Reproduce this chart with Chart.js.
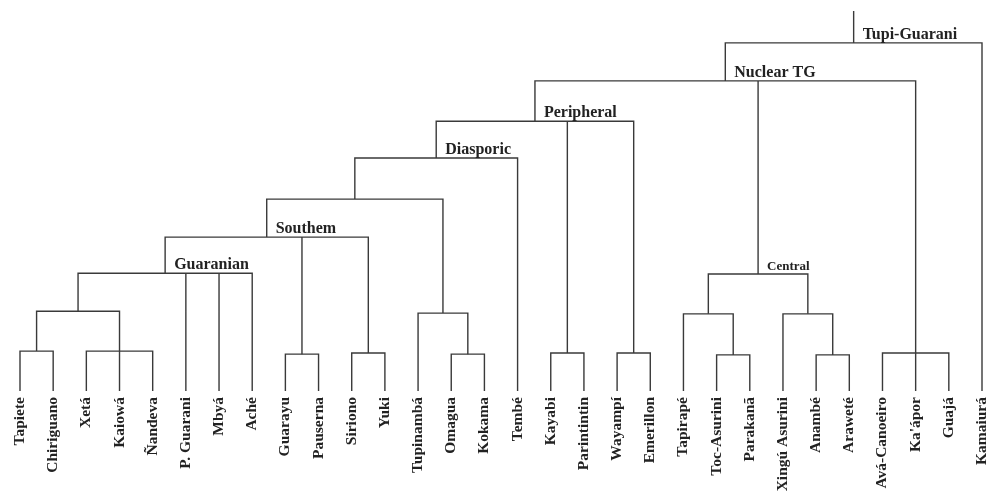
<!DOCTYPE html>
<html>
<head>
<meta charset="utf-8">
<script src="https://cdn.jsdelivr.net/npm/chart.js@4"></script>
<style>
  html, body { margin: 0; padding: 0; background: #fff; }
  #wrap { width: 993px; height: 497px; }
</style>
</head>
<body>
<div id="wrap"><canvas id="treeChart" width="993" height="497"></canvas></div>
<script>
// leaves, left to right
const leaves = ['Tapiete', 'Chiriguano', 'Xetá', 'Kaiowá', 'Ñandeva', 'P. Guarani', 'Mbyá', 'Aché',
  'Guarayu', 'Pauserna', 'Siriono', 'Yuki', 'Tupinambá', 'Omagua', 'Kokama', 'Tembé',
  'Kayabi', 'Parintintin', 'Wayampí', 'Emerillon', 'Tapirapé', 'Toc-Asurini', 'Parakanã',
  'Xingú Asurini', 'Anambé', 'Araweté', 'Avá-Canoeiro', "Ka'ápor", 'Guajá', 'Kamaiurá'];

// internal nodes (children are leaf names or earlier node ids)
const clusterIds = ['TC', 'XKN', 'TX', 'GUA', 'GP', 'SY', 'SOU', 'OK', 'TOK', 'ST', 'DIA', 'KP', 'WE', 'PER',
  'TP', 'TTP', 'AA', 'XAA', 'CEN', 'AKG', 'NUC', 'TG'];
const clusterChildren = [
  ['Tapiete', 'Chiriguano'],
  ['Xetá', 'Kaiowá', 'Ñandeva'],
  ['TC', 'XKN'],
  ['TX', 'P. Guarani', 'Mbyá', 'Aché'],
  ['Guarayu', 'Pauserna'],
  ['Siriono', 'Yuki'],
  ['GUA', 'GP', 'SY'],
  ['Omagua', 'Kokama'],
  ['Tupinambá', 'OK'],
  ['SOU', 'TOK'],
  ['ST', 'Tembé'],
  ['Kayabi', 'Parintintin'],
  ['Wayampí', 'Emerillon'],
  ['DIA', 'KP', 'WE'],
  ['Toc-Asurini', 'Parakanã'],
  ['Tapirapé', 'TP'],
  ['Anambé', 'Araweté'],
  ['Xingú Asurini', 'AA'],
  ['TTP', 'XAA'],
  ['Avá-Canoeiro', "Ka'ápor", 'Guajá'],
  ['PER', 'CEN', 'AKG'],
  ['NUC', 'Kamaiurá']
];
const clusterHeights = [10.5, 10.5, 21, 31, 9.7, 10, 40.5, 9.7, 20.5, 50.5, 61.3, 10, 10, 71,
  9.5, 20.3, 9.5, 20.3, 30.8, 10, 81.6, 91.6];
const clusterTitles = ['', '', '', 'Guaranian', '', '', 'Southem', '', '', '', 'Diasporic', '', '', 'Peripheral',
  '', '', '', '', 'Central', '', 'Nuclear TG', 'Tupi-Guarani'];
const rootTop = 100;

// positions of every node
const pos = {};
leaves.forEach(function (name, i) { pos[name] = { x: i, y: 0 }; });
clusterIds.forEach(function (id, k) {
  const xs = clusterChildren[k].map(function (c) { return pos[c].x; });
  pos[id] = { x: (Math.min.apply(null, xs) + Math.max.apply(null, xs)) / 2, y: clusterHeights[k] };
});

// one dataset per node: bracket + extra verticals for middle children
const datasets = clusterIds.map(function (id, k) {
  const h = clusterHeights[k];
  const kids = clusterChildren[k].map(function (c) { return pos[c]; }).sort(function (a, b) { return a.x - b.x; });
  const first = kids[0], last = kids[kids.length - 1];
  const pts = [{ x: first.x, y: first.y }, { x: first.x, y: h }, { x: last.x, y: h }, { x: last.x, y: last.y }];
  kids.slice(1, -1).forEach(function (c) {
    pts.push({ x: c.x, y: null });
    pts.push({ x: c.x, y: c.y });
    pts.push({ x: c.x, y: h });
  });
  return { data: pts };
});
const root = pos[clusterIds[clusterIds.length - 1]];
datasets.push({ data: [{ x: root.x, y: root.y }, { x: root.x, y: rootTop }] });
datasets.forEach(function (d) {
  d.showLine = true;
  d.borderColor = '#3a3a3a';
  d.borderWidth = 1.4;
  d.pointRadius = 0;
  d.fill = false;
  d.clip = false;
  d.spanGaps = false;
});

const labelPlugin = {
  id: 'treeLabels',
  afterDatasetsDraw: function (chart) {
    const c = chart.ctx, xs = chart.scales.x, ys = chart.scales.y;
    c.save();
    c.fillStyle = '#222';
    // leaf names, rotated
    c.font = 'bold 15.5px "Liberation Serif", "Times New Roman", serif';
    c.textAlign = 'right';
    c.textBaseline = 'middle';
    leaves.forEach(function (name, i) {
      c.save();
      c.translate(xs.getPixelForValue(i), ys.getPixelForValue(0) + 6);
      c.rotate(-Math.PI / 2);
      c.fillText(name, 0, 0);
      c.restore();
    });
    // group names
    c.textAlign = 'left';
    c.textBaseline = 'alphabetic';
    clusterIds.forEach(function (id, k) {
      if (!clusterTitles[k]) return;
      c.font = (clusterTitles[k] === 'Central' ? 'bold 13px' : 'bold 16px') + ' "Liberation Serif", "Times New Roman", serif';
      c.fillText(clusterTitles[k], xs.getPixelForValue(pos[id].x) + 9, ys.getPixelForValue(clusterHeights[k]) - 4);
    });
    c.restore();
  }
};

document.addEventListener("DOMContentLoaded", function () {
  const ctx = document.getElementById('treeChart').getContext('2d');
  new Chart(ctx, {
    type: 'scatter',
    data: { datasets: datasets },
    plugins: [labelPlugin],
    options: {
      responsive: false,
      animation: false,
      layout: { padding: { left: 20, right: 11, top: 11, bottom: 106 } },
      plugins: {
        legend: { display: false },
        tooltip: { enabled: false }
      },
      scales: {
        x: { type: 'linear', min: 0, max: 29, display: false },
        y: { min: 0, max: 100, display: false }
      }
    }
  });
});
</script>
</body>
</html>
